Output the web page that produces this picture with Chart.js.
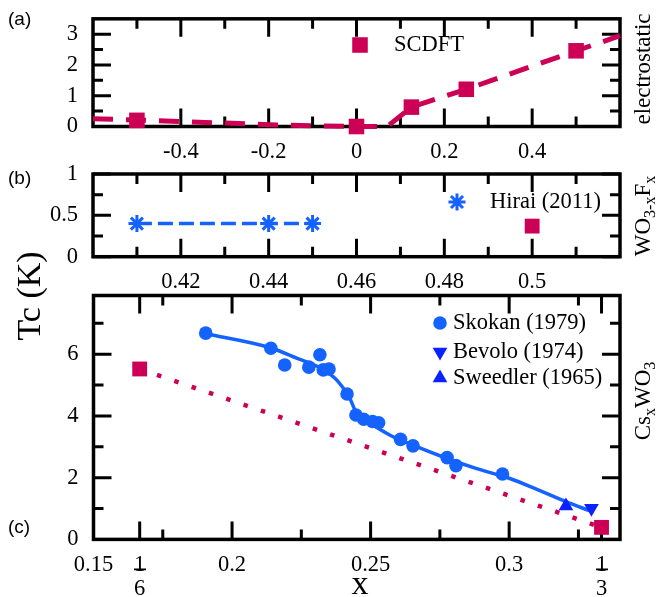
<!DOCTYPE html>
<html>
<head>
<meta charset="utf-8">
<script src="https://cdn.jsdelivr.net/npm/chart.js@4.4.1/dist/chart.umd.min.js"></script>
<style>
  html, body { margin: 0; padding: 0; background: #fff; }
  #wrap { position: relative; width: 669px; height: 597px; overflow: hidden; }
  #wrap canvas { position: absolute; left: 0; top: 0; }
  .lbl { position: absolute; font-family: "Liberation Serif", "Times New Roman", serif; color: #000; white-space: nowrap; line-height: 1; }
  .pan { font-family: "Liberation Sans", Arial, sans-serif; font-size: 19px; }
  .ctr { transform: translate(-50%, -50%); }
  .rot { transform: translate(-50%, -50%) rotate(-90deg); }
  .lbl sub { font-size: 70%; vertical-align: baseline; position: relative; top: 0.3em; line-height: 0; }
</style>
</head>
<body>
<div id="wrap">
  <canvas id="cA" width="669" height="597"></canvas>
  <canvas id="cB" width="669" height="597"></canvas>
  <canvas id="cC" width="669" height="597"></canvas>

  <div class="lbl pan" style="left:8px;top:9px">(a)</div>
  <div class="lbl pan" style="left:8px;top:168px">(b)</div>
  <div class="lbl pan" style="left:8px;top:517px">(c)</div>

  <div class="lbl rot" style="left:29px;top:296px;font-size:34px">Tc (K)</div>
  <div class="lbl ctr" style="left:360px;top:583px;font-size:34px">x</div>

  <div class="lbl rot" style="left:642px;top:69px;font-size:23px">electrostatic</div>
  <div class="lbl rot" style="left:642px;top:216px;font-size:23px">WO<sub>3-x</sub>F<sub>x</sub></div>
  <div class="lbl rot" style="left:642px;top:401px;font-size:23px">Cs<sub>x</sub>WO<sub>3</sub></div>
</div>

<script>
const SERIF = "'Liberation Serif', 'Times New Roman', serif";
const CRIMSON = '#cc0055';
const BLUE = '#1462ff';
const DEEPBLUE = '#0a22ff';

// ---- panel (a): electrostatic doping, SCDFT ----
const A_SCDFT_X = [-0.5, 0, 0.125, 0.25, 0.5];
const A_SCDFT_Y = [0.2, 0, 0.63, 1.21, 2.46];
const A_FIT_X = [-0.6, -0.5, -0.4, -0.3, -0.2, -0.1, 0, 0.07, 0.125, 0.25, 0.5, 0.6];
const A_FIT_Y = [0.25, 0.21, 0.16, 0.11, 0.06, 0.02, 0, 0, 0.63, 1.21, 2.46, 2.95];
const A_X_TICKS = [-0.4, -0.2, 0, 0.2, 0.4];
const A_X_LABELS = ['-0.4', '-0.2', '0', '0.2', '0.4'];
const A_X_MINOR = [-0.5, -0.3, -0.1, 0.1, 0.3, 0.5];
const A_Y_TICKS = [0, 1, 2, 3];
const A_Y_LABELS = ['0', '1', '2', '3'];
const A_Y_MINOR = [0.5, 1.5, 2.5];

// ---- panel (b): WO3-xFx ----
const B_HIRAI_X = [0.41, 0.44, 0.45];
const B_HIRAI_Y = [0.4, 0.4, 0.4];
const B_SCDFT_X = [0.5];
const B_SCDFT_Y = [0.37];
const B_X_TICKS = [0.42, 0.44, 0.46, 0.48, 0.5];
const B_X_LABELS = ['0.42', '0.44', '0.46', '0.48', '0.5'];
const B_X_MINOR = [0.41, 0.43, 0.45, 0.47, 0.49, 0.51];
const B_Y_TICKS = [0, 0.5, 1];
const B_Y_LABELS = ['0', '0.5', '1'];
const B_Y_MINOR = [0.25, 0.75];

// ---- panel (c): CsxWO3 ----
const C_SKOKAN_X = [0.1905, 0.214, 0.219, 0.2277, 0.2317, 0.2329, 0.235, 0.2415, 0.2447, 0.2475, 0.2507, 0.2529, 0.2608, 0.2653, 0.2776, 0.2808, 0.2976];
const C_SKOKAN_Y = [6.68, 6.19, 5.65, 5.58, 5.98, 5.49, 5.52, 4.71, 4.03, 3.89, 3.82, 3.78, 3.24, 3.03, 2.65, 2.39, 2.12];
const C_CURVE_X = [0.1905, 0.214, 0.2233, 0.2329, 0.2383, 0.2425, 0.2449, 0.2485, 0.2569, 0.2653, 0.2776, 0.288, 0.3, 0.31, 0.3205, 0.329];
const C_CURVE_Y = [6.66, 6.2, 5.87, 5.5, 5.11, 4.57, 4.09, 3.85, 3.38, 3.05, 2.62, 2.3, 1.98, 1.62, 1.22, 0.93];
const C_BEVOLO_X = [0.3297];
const C_BEVOLO_Y = [1.01];
const C_SWEEDLER_X = [0.3205];
const C_SWEEDLER_Y = [1.08];
const C_SCDFT_X = [1 / 6, 1 / 3];
const C_SCDFT_Y = [5.52, 0.39];
const C_X_TICKS = [0.15, 1 / 6, 0.2, 0.25, 0.3, 1 / 3];
const C_X_LABELS = ['0.15', ['1', '6'], '0.2', '0.25', '0.3', ['1', '3']];
const C_X_MAJOR = [1 / 6, 0.2, 0.25, 0.3, 1 / 3];
const C_X_MINOR = [0.175, 0.225, 0.275, 0.325];
const C_FRACTIONS = [1 / 6, 1 / 3];
const C_Y_TICKS = [0, 2, 4, 6];
const C_Y_LABELS = ['0', '2', '4', '6'];
const C_Y_MINOR = [1, 3, 5, 7];

const W = 669, H = 597, YW = 60, XH = 56;
const MAJ = 18, MIN = 10;

const pts = (xs, ys) => xs.map((x, i) => ({ x: x, y: ys[i] }));

// frame, inward ticks on all four sides, fraction bars and the in-plot legend
function framePlugin(m) {
    return {
        id: 'frameTicks',
        beforeDatasetsDraw(chart) {
            const { ctx, chartArea: a, scales } = chart;
            const x = scales.x, y = scales.y;
            ctx.save();
            ctx.strokeStyle = '#000';
            ctx.lineCap = 'butt';
            ctx.lineWidth = 3;
            ctx.beginPath();
            const xt = (vals, len) => vals.forEach(v => {
                const px = x.getPixelForValue(v);
                ctx.moveTo(px, a.top); ctx.lineTo(px, a.top + len);
                ctx.moveTo(px, a.bottom); ctx.lineTo(px, a.bottom - len);
            });
            const yt = (vals, len) => vals.forEach(v => {
                const py = y.getPixelForValue(v);
                ctx.moveTo(a.left, py); ctx.lineTo(a.left + len, py);
                ctx.moveTo(a.right, py); ctx.lineTo(a.right - len, py);
            });
            xt(m.xMajor, MAJ); xt(m.xMinor, MIN);
            yt(m.yMajor, MAJ); yt(m.yMinor, MIN);
            ctx.stroke();
            ctx.lineWidth = 3.5;
            ctx.strokeRect(a.left, a.top, a.right - a.left, a.bottom - a.top);
            ctx.restore();
        },
        afterDraw(chart) {
            const { ctx, chartArea: a, scales } = chart;
            ctx.save();
            // fraction bars between numerator and denominator of 1/6 and 1/3
            if (m.fractions) {
                ctx.strokeStyle = '#000';
                ctx.lineWidth = 1.6;
                ctx.beginPath();
                m.fractions.forEach(v => {
                    const px = Math.round(scales.x.getPixelForValue(v));
                    ctx.moveTo(px - 6, a.bottom + 30);
                    ctx.lineTo(px + 6, a.bottom + 30);
                });
                ctx.stroke();
            }
            (m.legend || []).forEach(it => {
                ctx.fillStyle = it.color;
                ctx.strokeStyle = it.color;
                ctx.lineWidth = it.border || 0;
                Chart.helpers.drawPoint(ctx, {
                    pointStyle: it.style, rotation: it.rotation || 0,
                    radius: it.radius, borderWidth: it.border || 0
                }, it.px, it.py);
                ctx.fillStyle = '#000';
                ctx.font = '22.5px ' + SERIF;
                ctx.textBaseline = 'middle';
                ctx.textAlign = 'left';
                ctx.fillText(it.text, it.tx, it.py);
            });
            ctx.restore();
        }
    };
}

function panel(id, area, xc, yc, datasets, marks) {
    const tickFont = { family: SERIF, size: 22.5, lineHeight: 1.05 };
    return new Chart(document.getElementById(id), {
        type: 'scatter',
        data: { datasets: datasets },
        options: {
            responsive: false,
            animation: false,
            events: [],
            layout: {
                padding: { left: area.left - YW, right: W - area.right, top: area.top, bottom: H - area.bottom - XH }
            },
            plugins: { legend: { display: false }, tooltip: { enabled: false } },
            scales: {
                x: {
                    type: 'linear', min: xc.min, max: xc.max,
                    grid: { display: false }, border: { display: false },
                    afterFit: s => { s.height = XH; },
                    afterBuildTicks: s => { s.ticks = xc.ticks.map(v => ({ value: v })); },
                    ticks: {
                        autoSkip: false, maxRotation: 0, padding: 6, color: '#000', font: tickFont,
                        callback: (v, i) => xc.labels[i]
                    }
                },
                y: {
                    type: 'linear', min: yc.min, max: yc.max,
                    grid: { display: false }, border: { display: false },
                    afterFit: s => { s.width = YW; },
                    afterBuildTicks: s => { s.ticks = yc.ticks.map(v => ({ value: v })); },
                    ticks: {
                        autoSkip: false, padding: 7, color: '#000', font: tickFont,
                        callback: (v, i) => yc.labels[i]
                    }
                }
            }
        },
        plugins: [framePlugin(marks)]
    });
}

const square = (xs, ys, r) => ({
    data: pts(xs, ys), pointStyle: 'rect', pointRadius: r, pointBackgroundColor: CRIMSON,
    pointBorderWidth: 0, showLine: false, clip: false
});

// (a)
panel('cA', { left: 93, right: 620, top: 13, bottom: 126.5 },
    { min: -0.6, max: 0.6, ticks: A_X_TICKS, labels: A_X_LABELS },
    { min: 0, max: 3.5, ticks: A_Y_TICKS, labels: A_Y_LABELS },
    [
        square(A_SCDFT_X, A_SCDFT_Y, 11),
        {
            data: pts(A_FIT_X, A_FIT_Y), showLine: true, pointRadius: 0,
            borderColor: CRIMSON, borderWidth: 5, borderDash: [20, 13], tension: 0, clip: false
        }
    ],
    {
        xMajor: A_X_TICKS, xMinor: A_X_MINOR, yMajor: A_Y_TICKS, yMinor: A_Y_MINOR,
        legend: [{ style: 'rect', radius: 11, color: CRIMSON, px: 360, py: 45, text: 'SCDFT', tx: 394 }]
    });

// (b)
panel('cB', { left: 93, right: 620, top: 174, bottom: 256.7 },
    { min: 0.40, max: 0.52, ticks: B_X_TICKS, labels: B_X_LABELS },
    { min: 0, max: 1, ticks: B_Y_TICKS, labels: B_Y_LABELS },
    [
        {
            data: pts(B_HIRAI_X, B_HIRAI_Y), pointStyle: 'star', pointRadius: 8.5,
            pointBorderColor: BLUE, pointBorderWidth: 3, showLine: false, clip: false
        },
        square(B_SCDFT_X, B_SCDFT_Y, 10.5),
        {
            data: pts(B_HIRAI_X, B_HIRAI_Y), showLine: true, pointRadius: 0,
            borderColor: BLUE, borderWidth: 3.5, borderDash: [15, 6], clip: false
        }
    ],
    {
        xMajor: B_X_TICKS, xMinor: B_X_MINOR, yMajor: B_Y_TICKS, yMinor: B_Y_MINOR,
        legend: [{ style: 'star', radius: 8.5, border: 3, color: BLUE, px: 457, py: 202, text: 'Hirai (2011)', tx: 490 }]
    });

// (c)
panel('cC', { left: 93.5, right: 620, top: 295.5, bottom: 539.4 },
    { min: 0.15, max: 0.34, ticks: C_X_TICKS, labels: C_X_LABELS },
    { min: 0, max: 7.9, ticks: C_Y_TICKS, labels: C_Y_LABELS },
    [
        {
            data: pts(C_SKOKAN_X, C_SKOKAN_Y), pointStyle: 'circle', pointRadius: 6.8,
            pointBackgroundColor: BLUE, pointBorderWidth: 0, showLine: false, clip: false
        },
        {
            data: pts(C_BEVOLO_X, C_BEVOLO_Y), pointStyle: 'triangle', pointRotation: 180, pointRadius: 8.5,
            pointBackgroundColor: DEEPBLUE, pointBorderWidth: 0, showLine: false, clip: false
        },
        {
            data: pts(C_SWEEDLER_X, C_SWEEDLER_Y), pointStyle: 'triangle', pointRadius: 8.5,
            pointBackgroundColor: DEEPBLUE, pointBorderWidth: 0, showLine: false, clip: false
        },
        square(C_SCDFT_X, C_SCDFT_Y, 10.5),
        {
            data: pts(C_CURVE_X, C_CURVE_Y), showLine: true, pointRadius: 0,
            borderColor: BLUE, borderWidth: 3.5, cubicInterpolationMode: 'monotone', clip: false
        },
        {
            data: pts(C_SCDFT_X, C_SCDFT_Y), showLine: true, pointRadius: 0,
            borderColor: CRIMSON, borderWidth: 4.5, borderDash: [4.5, 13.8], clip: false
        }
    ],
    {
        xMajor: C_X_MAJOR, xMinor: C_X_MINOR, yMajor: C_Y_TICKS, yMinor: C_Y_MINOR,
        fractions: C_FRACTIONS,
        legend: [
            { style: 'circle', radius: 6.8, color: BLUE, px: 440, py: 323, text: 'Skokan (1979)', tx: 453 },
            { style: 'triangle', rotation: 180, radius: 8.5, color: DEEPBLUE, px: 440, py: 352, text: 'Bevolo (1974)', tx: 453 },
            { style: 'triangle', radius: 8.5, color: DEEPBLUE, px: 440, py: 378, text: 'Sweedler (1965)', tx: 453 }
        ]
    });
</script>
</body>
</html>
